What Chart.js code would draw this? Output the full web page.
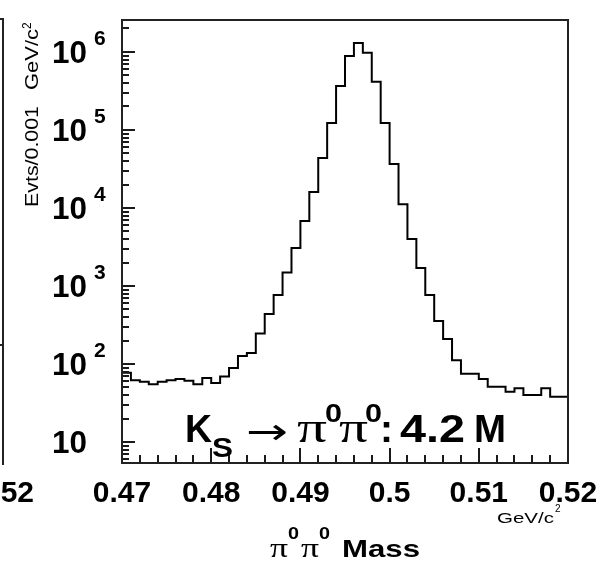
<!DOCTYPE html>
<html>
<head>
<meta charset="utf-8">
<script src="https://cdn.jsdelivr.net/npm/chart.js@4"></script>
<style>
  html, body { margin: 0; padding: 0; background: #fff; }
  canvas { display: block; }
</style>
</head>
<body>
<canvas id="c" width="603" height="566"></canvas>
<script>
// ---- data ----
const binLowEdges = [0.470,0.471,0.472,0.473,0.474,0.475,0.476,0.477,0.478,0.479,
                     0.480,0.481,0.482,0.483,0.484,0.485,0.486,0.487,0.488,0.489,
                     0.490,0.491,0.492,0.493,0.494,0.495,0.496,0.497,0.498,0.499,
                     0.500,0.501,0.502,0.503,0.504,0.505,0.506,0.507,0.508,0.509,
                     0.510,0.511,0.512,0.513,0.514,0.515,0.516,0.517,0.518,0.519];
const lastEdge = 0.520;
const counts = [66, 77, 62, 59, 55, 59, 62, 64, 61, 55,
                66, 57, 69, 89, 127, 138, 246, 437, 767, 1490,
                3070, 6810, 16000, 43800, 123000, 366000, 889000, 1300000, 980000, 416000,
                123000, 36600, 11200, 4010, 1700, 767, 356, 209, 112, 75,
                75, 64, 51, 51, 44, 49, 40, 40, 49, 38];
const xTickValues = [0.47, 0.48, 0.49, 0.50, 0.51, 0.52];
const xTickLabels = ['0.47', '0.48', '0.49', '0.5', '0.51', '0.52'];
const yTickExponents = [1, 2, 3, 4, 5, 6];
const yTitle = 'Evts/0.001';
const yUnit = 'GeV/c';
const annotation = ['K', 'S', '\u2192', '\u03C0', '0', '\u03C0', '0', ':', '4.2', 'M'];

// ---- build points for a step histogram ----
const pts = binLowEdges.map((e, i) => ({x: e, y: counts[i]}));
pts.push({x: lastEdge, y: counts[counts.length - 1]});

const SANS = '"Liberation Sans", Arial, Helvetica, sans-serif';
const SERIF = '"Liberation Serif", "DejaVu Serif", serif';

function drawFit(ctx, s, font, x, y, width, align) {
  ctx.save();
  ctx.font = font;
  const w = ctx.measureText(s).width;
  const sx = width ? width / w : 1;
  ctx.translate(x, y);
  ctx.scale(sx, 1);
  ctx.textAlign = align || 'left';
  ctx.textBaseline = 'alphabetic';
  ctx.fillStyle = '#000';
  ctx.fillText(s, 0, 0);
  ctx.restore();
}

const decorPlugin = {
  id: 'decor',
  afterDraw(chart) {
    const ctx = chart.ctx;
    const xs = chart.scales.x, ys = chart.scales.y;
    const a = chart.chartArea;
    ctx.save();
    ctx.strokeStyle = '#1a1a1a';
    ctx.lineWidth = 2;
    ctx.lineCap = 'butt';

    // y ticks (inward, on left border)
    for (let k = 0; k <= 6; k++) {
      for (let m = 1; m <= 9; m++) {
        const v = m * Math.pow(10, k);
        if (v < ys.min || v > ys.max) continue;
        const py = Math.round(ys.getPixelForValue(v));
        const len = (m === 1) ? 13 : 7;
        ctx.beginPath();
        ctx.moveTo(a.left, py);
        ctx.lineTo(a.left + len, py);
        ctx.stroke();
      }
    }
    // x ticks (inward, on bottom border)
    for (let i = 0; i <= 25; i++) {
      const v = 0.47 + i * 0.002;
      const px = Math.round(xs.getPixelForValue(v));
      const major = (i % 5 === 0);
      const len = major ? 15 : 8;
      ctx.beginPath();
      ctx.moveTo(px, a.bottom);
      ctx.lineTo(px, a.bottom - len);
      ctx.stroke();
    }
    // frame
    ctx.strokeStyle = '#222';
    ctx.strokeRect(a.left, a.top, a.right - a.left, a.bottom - a.top);

    // left neighbour panel fragment
    ctx.beginPath();
    ctx.moveTo(3, 19); ctx.lineTo(3, 465);
    ctx.moveTo(0, 19); ctx.lineTo(4, 19);
    ctx.moveTo(0, 345); ctx.lineTo(3, 345);
    ctx.stroke();
    drawFit(ctx, '0.52', 'bold 30px ' + SANS, 34, 502, null, 'right');

    // y tick labels
    yTickExponents.forEach(k => {
      const py = ys.getPixelForValue(Math.pow(10, k));
      drawFit(ctx, '10', 'bold 31px ' + SANS, 52, py + 11, 35);
      if (k > 1) drawFit(ctx, String(k), 'bold 21px ' + SANS, 94, py - 7, null);
    });

    // x tick labels
    xTickValues.forEach((v, i) => {
      const px = xs.getPixelForValue(v);
      drawFit(ctx, xTickLabels[i], 'bold 30px ' + SANS, px, 502, null, 'center');
    });

    // GeV/c^2 unit under axis
    drawFit(ctx, 'GeV/c', '15px ' + SANS, 497, 523, 57);
    drawFit(ctx, '2', '10px ' + SANS, 555, 512, null);

    // x axis title
    drawFit(ctx, '\u03C0', '28px ' + SERIF, 270, 557, 18);
    drawFit(ctx, '0', 'bold 17px ' + SANS, 288, 539, 11);
    drawFit(ctx, '\u03C0', '28px ' + SERIF, 301, 557, 18);
    drawFit(ctx, '0', 'bold 17px ' + SANS, 319, 539, 11);
    drawFit(ctx, 'Mass', 'bold 24px ' + SANS, 342, 557, 78);

    // y axis title (rotated)
    ctx.save();
    ctx.translate(38, 207);
    ctx.rotate(-Math.PI / 2);
    drawFit(ctx, yTitle, '19px ' + SANS, 0, 0, 101);
    drawFit(ctx, yUnit, '19px ' + SANS, 117, 0, 61);
    drawFit(ctx, '2', '12px ' + SANS, 178, -7, null);
    ctx.restore();

    // annotation
    drawFit(ctx, annotation[0], 'bold 38px ' + SANS, 185, 442, 27);
    drawFit(ctx, annotation[1], 'bold 28px ' + SANS, 212, 457, 21);
    drawFit(ctx, annotation[2], '36px "DejaVu Sans", sans-serif', 246, 444, 42);
    drawFit(ctx, annotation[3], '44px ' + SERIF, 297, 442, 30);
    drawFit(ctx, annotation[4], 'bold 26px ' + SANS, 325, 422, 17);
    drawFit(ctx, annotation[5], '44px ' + SERIF, 339, 442, 29);
    drawFit(ctx, annotation[6], 'bold 26px ' + SANS, 365, 422, 17);
    drawFit(ctx, annotation[7], 'bold 38px ' + SANS, 380, 442, 13);
    drawFit(ctx, annotation[8], 'bold 38px ' + SANS, 400, 442, 65);
    drawFit(ctx, annotation[9], 'bold 38px ' + SANS, 474, 442, 32);

    ctx.restore();
  }
};

new Chart(document.getElementById('c'), {
  type: 'line',
  data: {
    datasets: [{
      data: pts,
      stepped: 'after',
      borderColor: '#000',
      borderWidth: 2,
      pointRadius: 0,
      fill: false
    }]
  },
  options: {
    responsive: false,
    animation: false,
    devicePixelRatio: 1,
    layout: { padding: { left: 122, right: 35, top: 20, bottom: 103 } },
    plugins: { legend: { display: false }, tooltip: { enabled: false } },
    scales: {
      x: { type: 'linear', min: 0.47, max: 0.52, display: false },
      y: { type: 'logarithmic', min: 5.38, max: 2.57e6, display: false }
    }
  },
  plugins: [decorPlugin]
});
</script>
</body>
</html>
